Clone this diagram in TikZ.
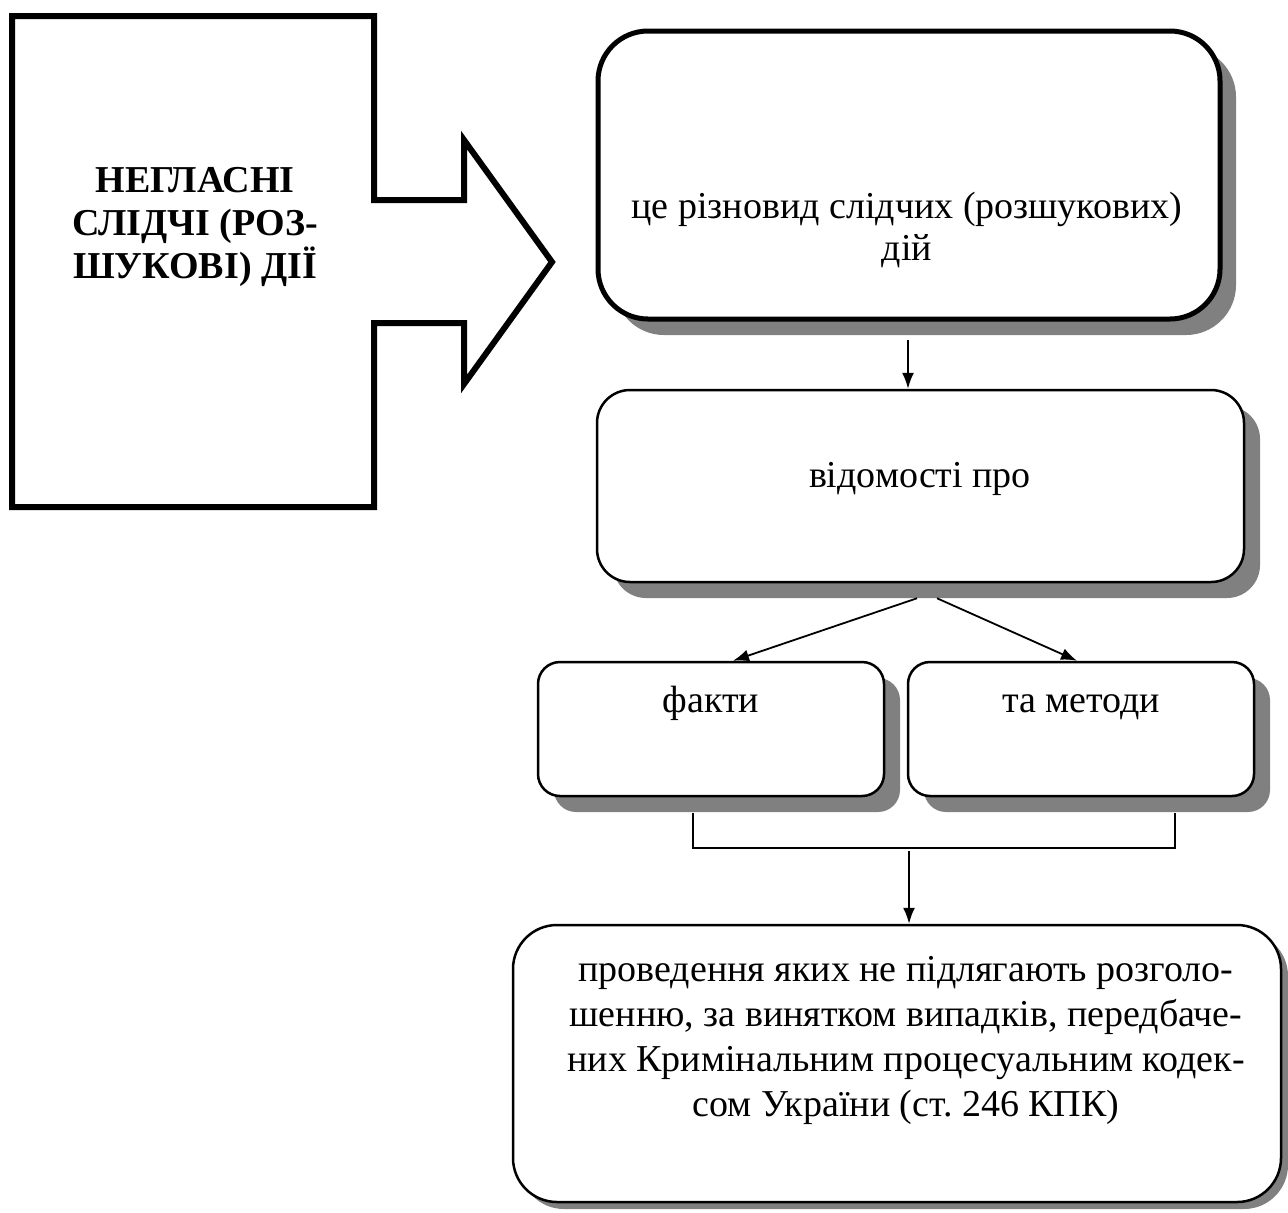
\documentclass[tikz,border=0pt]{standalone}
\usepackage{fontspec}
\setmainfont{Liberation Serif}
\usetikzlibrary{arrows.meta,calc,shadows}
\definecolor{shadowgray}{RGB}{128,128,128}
\frenchspacing
\begin{document}
\begin{tikzpicture}[x=0.5pt,y=-0.5pt,
  bigshadow/.style={drop shadow={shadow xshift=8pt,shadow yshift=-8pt,fill=shadowgray,opacity=1}},
  smallshadow/.style={drop shadow={shadow xshift=3.5pt,shadow yshift=-3.5pt,fill=shadowgray,opacity=1}},
  rbox/.style={draw=black,fill=white,rectangle,inner sep=0pt,line width=1.25pt},
  bodytext/.style={font=\fontsize{19}{21}\selectfont,inner sep=0pt,align=center},
  conn/.style={line width=0.9pt,draw=black},
  arr/.style={conn,-{Latex[length=8pt,width=6pt]}}
]
\useasboundingbox (0,0) rectangle (1288,1212);
% left block arrow
\draw[line width=3pt,miter limit=10]
  (12,16) -- (374,16) -- (374,200) -- (464,200) -- (464,140) -- (552,262)
  -- (464,384) -- (464,323) -- (374,323) -- (374,507) -- (12,507) -- cycle;
\node[font=\fontsize{19}{21.5}\selectfont\bfseries,align=center,inner sep=0pt] (title) at (195,227)
  {НЕГЛАСНІ\\СЛІДЧІ (РОЗ-\\ШУКОВІ) ДІЇ};
% boxes
\node[rbox,bigshadow,line width=2.5pt,rounded corners=25pt,minimum width=311pt,minimum height=144pt] (b1) at (909,175) {};
\node[bodytext] (t1) at (907,230) {це різновид слідчих (розшукових)\\дій};
\node[rbox,bigshadow,rounded corners=16.5pt,minimum width=323.5pt,minimum height=96pt] (b2) at (920.5,486) {};
\node[bodytext,anchor=base] (t2) at (920,487) {відомості про};
\node[rbox,bigshadow,rounded corners=11pt,minimum width=173pt,minimum height=67pt] (f) at (711,729) {};
\node[bodytext,anchor=base] (tf) at (711,712) {факти};
\node[rbox,bigshadow,rounded corners=11pt,minimum width=173pt,minimum height=67pt] (m) at (1081,729) {};
\node[bodytext,anchor=base] (tm) at (1081,712) {та методи};
\node[rbox,smallshadow,rounded corners=22pt,minimum width=384pt,minimum height=138.5pt] (bot) at (897,1063.5) {};
\node[bodytext,font=\fontsize{19}{22.5}\selectfont] (tb) at (906,1040)
  {проведення яких не підлягають розголо-\\шенню, за винятком випадків, передбаче-\\них Кримінальним процесуальним кодек-\\сом України (ст. 246 КПК)};
% connectors
\draw[arr] ($(b1.south)+(-1,18)$) -- ($(b2.north)+(-12.5,0)$);
\draw[arr] ($(b2.south)+(-3.5,15)$) -- ($(f.north)+(22,0)$);
\draw[arr] ($(b2.south)+(16.5,15)$) -- ($(m.north)+(-4,0)$);
\draw[conn] ($(f.south)+(-18,16)$) -- ($(f.south)+(-18,51)$) -- ($(m.south)+(94,51)$) -- ($(m.south)+(94,16)$);
\coordinate (join) at ($(bot.north)+(12,-73)$);
\draw[arr] (join) -- (join |- bot.north);
\end{tikzpicture}
\end{document}
